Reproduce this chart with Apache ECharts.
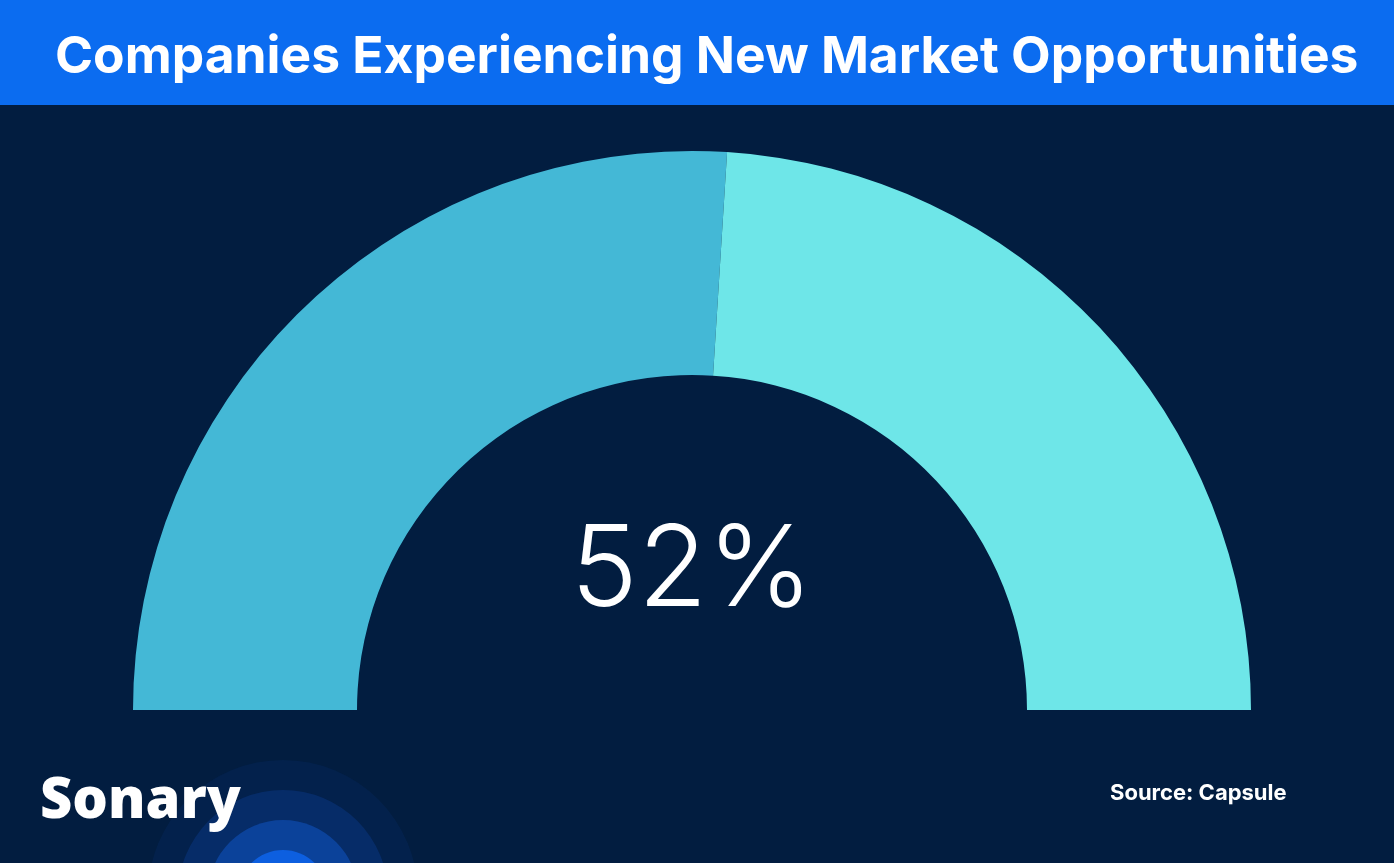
<!DOCTYPE html><html><head><meta charset="utf-8"><script src="https://cdn.jsdelivr.net/npm/echarts@6/dist/echarts.min.js"></script>
<style>html,body{margin:0;padding:0;background:#021d40}#c{width:1394px;height:863px}</style></head><body><div id="c"></div><script>
const categories=['Experiencing new market opportunities','Other'];
const values=[52,48];
const labelText='52%';
const ch=echarts.init(document.getElementById('c'));
ch.setOption({backgroundColor:'#021d40',
graphic:[
{type:'circle',shape:{cx:283,cy:895,r:135},style:{fill:'rgba(20,90,220,0.08)'},z:0},
{type:'circle',shape:{cx:283,cy:895,r:105},style:{fill:'rgba(20,90,220,0.2)'},z:0},
{type:'circle',shape:{cx:283,cy:895,r:75},style:{fill:'rgba(20,100,230,0.4)'},z:0},
{type:'circle',shape:{cx:283,cy:895,r:45},style:{fill:'#0d5fe0'},z:0},
{type:'rect',shape:{x:0,y:0,width:1394,height:105},style:{fill:'#0b6cf0'}},
{type:'text',left:55,top:32,style:{text:'Companies Experiencing New Market Opportunities',fill:'#fff',font:'bold 51.5px Inter, sans-serif'}},
{type:'text',left:40,top:774,style:{text:'Sonary',fill:'#fff',font:'800 56px "Open Sans", sans-serif'},z:5},
{type:'text',left:1110,top:782,style:{text:'Source: Capsule',fill:'#fff',font:'bold 22px Inter, sans-serif'}},
{type:'text',x:692,y:572,style:{text:labelText,fill:'#fff',font:'300 113px Inter, sans-serif',align:'center',verticalAlign:'middle'}}
],
series:[{type:'pie',center:[692,710],radius:[335,559],startAngle:180,clockwise:true,silent:true,label:{show:false},labelLine:{show:false},
data:[{name:categories[0],value:values[0],itemStyle:{color:'#44b8d6'}},{name:categories[1],value:values[1],itemStyle:{color:'#6ee6e8'}},
{name:'hidden',value:values[0]+values[1],itemStyle:{color:'rgba(0,0,0,0)'}}]}]});
</script></body></html>
